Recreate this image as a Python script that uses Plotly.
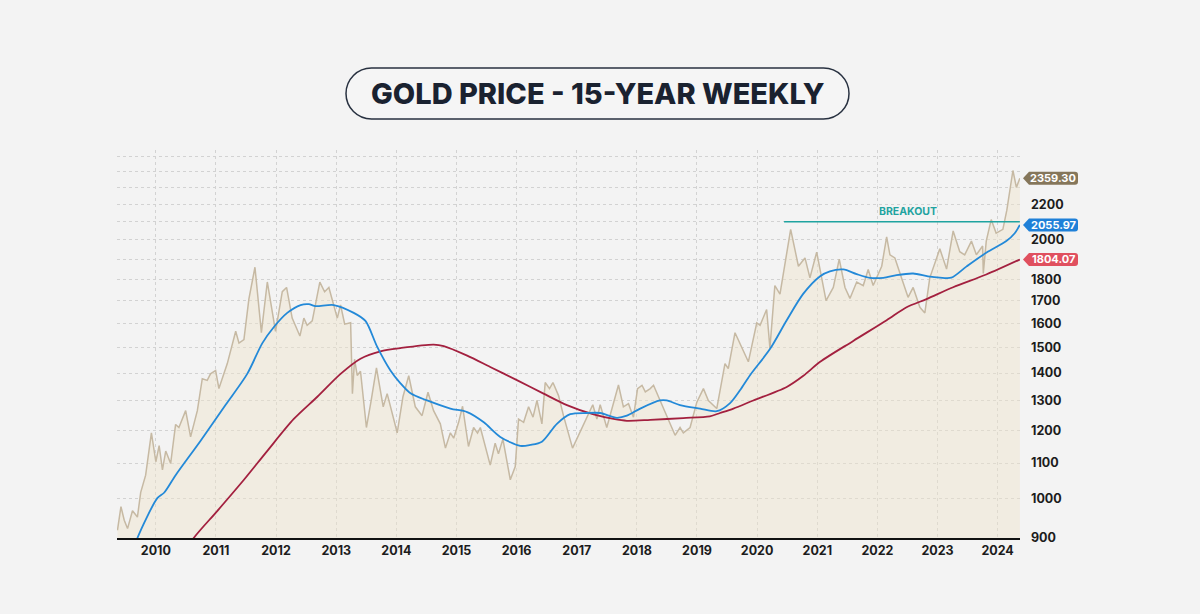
import math
import plotly.graph_objects as go

# ---------------- data ----------------
price_dates = [
    "2009-05-13", "2009-06-03", "2009-06-23", "2009-07-13", "2009-08-12", "2009-09-11",
    "2009-10-01", "2009-10-31", "2009-12-05", "2010-01-01", "2010-01-21", "2010-02-10",
    "2010-03-02", "2010-04-01", "2010-05-01", "2010-05-21", "2010-07-01", "2010-07-31",
    "2010-09-10", "2010-10-10", "2010-11-09", "2010-11-29", "2010-12-30", "2011-01-19",
    "2011-03-11", "2011-05-01", "2011-05-21", "2011-06-20", "2011-07-20", "2011-08-26",
    "2011-10-04", "2011-11-09", "2011-12-29", "2012-02-08", "2012-03-05", "2012-04-08",
    "2012-05-25", "2012-06-18", "2012-07-08", "2012-08-08", "2012-09-23", "2012-10-22",
    "2012-11-17", "2012-12-08", "2013-01-07", "2013-01-27", "2013-02-21", "2013-03-29",
    "2013-04-09", "2013-04-22", "2013-05-08", "2013-05-28", "2013-07-03", "2013-08-01",
    "2013-09-02", "2013-10-13", "2013-11-06", "2014-01-06", "2014-02-10", "2014-03-17",
    "2014-04-26", "2014-06-06", "2014-07-12", "2014-08-15", "2014-09-25", "2014-10-26",
    "2014-11-25", "2014-12-15", "2015-01-14", "2015-02-07", "2015-03-15", "2015-04-15",
    "2015-05-09", "2015-05-26", "2015-07-25", "2015-08-24", "2015-09-13", "2015-10-10",
    "2015-11-24", "2015-12-24", "2016-01-13", "2016-02-13", "2016-03-14", "2016-04-10",
    "2016-05-04", "2016-06-03", "2016-06-23", "2016-07-19", "2016-08-09", "2016-09-12",
    "2016-10-12", "2016-12-06", "2017-02-01", "2017-04-08", "2017-05-03", "2017-05-23",
    "2017-07-02", "2017-09-11", "2017-10-11", "2017-11-11", "2017-12-11", "2018-01-05",
    "2018-02-01", "2018-02-21", "2018-03-23", "2018-04-12", "2018-08-21", "2018-09-20",
    "2018-10-10", "2018-11-20", "2018-12-31", "2019-02-09", "2019-03-11", "2019-05-01",
    "2019-06-20", "2019-07-10", "2019-08-20", "2019-11-09", "2019-12-30", "2020-01-19",
    "2020-02-28", "2020-03-19", "2020-04-18", "2020-05-19", "2020-07-23", "2020-09-08",
    "2020-10-18", "2020-11-17", "2020-12-28", "2021-02-23", "2021-04-08", "2021-05-14",
    "2021-06-18", "2021-07-18", "2021-08-28", "2021-10-07", "2021-11-06", "2021-12-06",
    "2022-01-27", "2022-02-26", "2022-03-18", "2022-04-17", "2022-05-27", "2022-07-06",
    "2022-08-06", "2022-09-16", "2022-10-16", "2022-11-15", "2023-01-15", "2023-02-25",
    "2023-04-06", "2023-05-16", "2023-06-15", "2023-07-26", "2023-08-25", "2023-10-02",
    "2023-10-06", "2023-10-24", "2023-11-23", "2023-12-23", "2024-02-02", "2024-02-26",
    "2024-04-03", "2024-04-24", "2024-05-15",
]
price_values = [
    919, 979, 944, 923, 968, 952,
    1017, 1065, 1193, 1104, 1153, 1080,
    1136, 1099, 1220, 1210, 1266, 1180,
    1266, 1379, 1373, 1397, 1410, 1343,
    1436, 1566, 1517, 1531, 1707, 1859,
    1560, 1787, 1566, 1741, 1761, 1622,
    1546, 1622, 1591, 1610, 1786, 1741,
    1761, 1707, 1622, 1680, 1596, 1602,
    1325, 1453, 1391, 1407, 1210, 1301,
    1420, 1279, 1325, 1193, 1314, 1390,
    1279, 1249, 1330, 1266, 1222, 1145,
    1193, 1176, 1227, 1281, 1150, 1210,
    1192, 1210, 1094, 1160, 1128, 1173,
    1052, 1090, 1238, 1227, 1279, 1244,
    1301, 1222, 1365, 1343, 1365, 1318,
    1249, 1145, 1210, 1286, 1238, 1286,
    1210, 1356, 1279, 1290, 1244, 1343,
    1355, 1331, 1343, 1355, 1185, 1210,
    1193, 1210, 1295, 1343, 1301, 1273,
    1436, 1417, 1560, 1443, 1602, 1591,
    1660, 1497, 1770, 1730, 2058, 1864,
    1906, 1807, 1936, 1700, 1761, 1900,
    1761, 1710, 1787, 1770, 1848, 1770,
    1864, 2017, 1922, 1906, 1807, 1715,
    1761, 1670, 1645, 1807, 1953, 1850,
    2049, 1938, 1922, 1994, 1922, 1968,
    1828, 1994, 2112, 2037, 2058, 2166,
    2409, 2302, 2359.30,
]

ma50_dates = [
    "2009-08-10", "2009-09-11", "2010-01-11", "2010-02-20", "2010-05-01", "2010-09-30",
    "2011-03-01", "2011-07-10", "2011-10-10", "2011-12-19", "2012-03-09", "2012-05-29",
    "2012-07-18", "2012-08-28", "2012-12-17", "2013-04-17", "2013-06-27", "2013-09-06",
    "2013-11-26", "2014-01-26", "2014-03-28", "2014-07-07", "2014-11-25", "2015-03-07",
    "2015-06-16", "2015-09-24", "2016-01-23", "2016-03-25", "2016-06-03", "2016-09-02",
    "2016-11-22", "2017-03-03", "2017-05-23", "2017-09-01", "2017-11-01", "2018-01-21",
    "2018-05-21", "2018-07-01", "2018-09-20", "2019-01-20", "2019-05-01", "2019-07-21",
    "2019-09-19", "2019-11-19", "2020-03-19", "2020-06-29", "2020-10-08", "2021-01-18",
    "2021-03-18", "2021-06-08", "2021-08-28", "2021-11-16", "2022-02-06", "2022-04-27",
    "2022-08-06", "2022-11-04", "2023-01-15", "2023-03-26", "2023-06-25", "2023-10-24",
    "2024-02-23", "2024-04-14", "2024-05-15",
]
ma50_values = [
    860, 900, 1002, 1016, 1065, 1168,
    1286, 1397, 1517, 1584, 1645, 1680,
    1684, 1675, 1680, 1645, 1610, 1503,
    1410, 1362, 1326, 1301, 1273, 1261,
    1227, 1180, 1152, 1155, 1165, 1222,
    1254, 1258, 1258, 1242, 1249, 1273,
    1301, 1301, 1285, 1273, 1264, 1292,
    1337, 1392, 1493, 1613, 1732, 1815,
    1839, 1848, 1825, 1807, 1807, 1820,
    1828, 1814, 1808, 1808, 1862, 1933,
    1994, 2036, 2082,
]

ma200_dates = [
    "2010-06-15", "2010-08-19", "2011-01-10", "2011-06-20", "2011-11-08", "2012-04-18",
    "2012-09-08", "2013-01-27", "2013-05-28", "2013-09-26", "2014-01-26", "2014-08-15",
    "2014-10-16", "2015-03-07", "2015-07-25", "2016-01-03", "2016-06-13", "2016-11-02",
    "2017-04-13", "2017-08-12", "2017-11-01", "2018-03-23", "2018-10-10", "2019-03-20",
    "2019-05-21", "2019-08-10", "2019-12-09", "2020-06-29", "2020-10-08", "2021-01-18",
    "2021-08-07", "2022-02-26", "2022-06-27", "2022-10-26", "2023-04-06", "2023-10-24",
    "2024-05-15",
]
ma200_values = [
    860, 900, 968, 1052, 1136, 1238,
    1314, 1397, 1455, 1484, 1497, 1511,
    1505, 1467, 1423, 1374, 1325, 1285,
    1253, 1238, 1232, 1235, 1241, 1247,
    1258, 1273, 1301, 1349, 1390, 1443,
    1526, 1613, 1670, 1707, 1762, 1823,
    1898,
]

end_labels = ["2359.30", "2055.97", "1804.07"]

breakout_dates = ["2020-06-13", "2024-05-15"]
breakout_level = 2100
breakout_label = "BREAKOUT"

year_ticks = [str(y) for y in range(2010, 2025)]
y_gridvals = [900] + list(range(1000, 2600, 100))
y_labelled = [900, 1000, 1100, 1200, 1300, 1400, 1500, 1600, 1700, 1800, 2000, 2200]

title_text = "GOLD PRICE - 15-YEAR WEEKLY"

# ---------------- styling ----------------
BG = "#f3f3f3"
PRICE_COL = "#c6b9a3"
FILL_COL = "rgba(240,228,205,0.45)"
BLUE = "#2389d8"
RED = "#a3203f"
TEAL = "#1fa3a0"
BROWN_LBL = "#85765a"
BLUE_LBL = "#1f80d8"
RED_LBL = "#e0505f"
DARK = "#1a2230"
TICK_FONT = dict(family="Inter", size=12.5, color="#1c1c1c", weight="bold")

fig = go.Figure()

# baseline for the area fill
fig.add_trace(go.Scatter(
    x=[price_dates[0], price_dates[-1]], y=[y_gridvals[0], y_gridvals[0]],
    mode="lines", line=dict(width=0), hoverinfo="skip", showlegend=False,
))
fig.add_trace(go.Scatter(
    x=price_dates, y=price_values, mode="lines",
    line=dict(color=PRICE_COL, width=1.5), fill="tonexty", fillcolor=FILL_COL,
    showlegend=False,
))
fig.add_trace(go.Scatter(
    x=ma200_dates, y=ma200_values, mode="lines",
    line=dict(color=RED, width=1.8, shape="spline", smoothing=0.8), showlegend=False,
))
fig.add_trace(go.Scatter(
    x=ma50_dates, y=ma50_values, mode="lines",
    line=dict(color=BLUE, width=1.8, shape="spline", smoothing=0.8), showlegend=False,
))
fig.add_trace(go.Scatter(
    x=breakout_dates, y=[breakout_level, breakout_level], mode="lines",
    line=dict(color=TEAL, width=1.6), showlegend=False, cliponaxis=False,
))

lo, hi = math.log10(900), math.log10(2545)

fig.update_layout(
    width=1200, height=614,
    paper_bgcolor=BG, plot_bgcolor=BG,
    margin=dict(l=117, r=180, t=150, b=76),
    showlegend=False,
    xaxis=dict(
        type="date", range=["2009-05-10", "2024-05-16"],
        tickvals=[f"{y}-01-01" for y in year_ticks], ticktext=year_ticks,
        showgrid=True, gridcolor="#d2d2d2", griddash="dot", gridwidth=1,
        showline=True, linecolor="#111111", linewidth=1.6,
        ticks="", tickfont=TICK_FONT, zeroline=False,
    ),
    yaxis=dict(
        type="log", range=[lo, hi], side="right",
        tickvals=y_gridvals,
        ticktext=[str(v) if v in y_labelled else "" for v in y_gridvals],
        showgrid=True, gridcolor="#d2d2d2", griddash="dot", gridwidth=1,
        ticks="", ticklabelstandoff=10, tickfont=TICK_FONT,
        showline=False, zeroline=False,
    ),
)

# breakout label
fig.add_annotation(
    x="2022-07-06", y=math.log10(breakout_level), xref="x", yref="y",
    text=breakout_label, showarrow=False, yshift=10,
    font=dict(family="Inter", size=10.5, color=TEAL, weight="bold"),
)

# end-value labels (arrow-shaped boxes)
end_vals = [price_values[-1], ma50_values[-1], ma200_values[-1]]
end_cols = [BROWN_LBL, BLUE_LBL, RED_LBL]
box_path = ("M 3,0 L 9,6.5 L 55,6.5 Q 58,6.5 58,3.5 L 58,-3.5 Q 58,-6.5 55,-6.5 "
            "L 9,-6.5 Z")
for txt, v, c in zip(end_labels, end_vals, end_cols):
    fig.add_shape(
        type="path", xref="paper", yref="y", xsizemode="pixel", ysizemode="pixel",
        xanchor=1.0, yanchor=v, path=box_path,
        fillcolor=c, line=dict(width=0), layer="above",
    )
    fig.add_annotation(
        x=1.0, y=math.log10(v), xref="paper", yref="y", xanchor="center",
        yanchor="middle", xshift=33, showarrow=False, text=txt,
        font=dict(family="Inter", size=11, color="white", weight="bold"),
    )

# title pill
pill = ("M -226,25.5 L 226,25.5 C 240.1,25.5 251.5,14.1 251.5,0 "
        "C 251.5,-14.1 240.1,-25.5 226,-25.5 L -226,-25.5 "
        "C -240.1,-25.5 -251.5,-14.1 -251.5,0 C -251.5,14.1 -240.1,25.5 -226,25.5 Z")
tx, ty = (597.5 - 117) / 903, (538 - 93.5) / 388
fig.add_shape(
    type="path", xref="paper", yref="paper", xsizemode="pixel", ysizemode="pixel",
    xanchor=tx, yanchor=ty, path=pill, fillcolor="#f5f5f5",
    line=dict(color="#283140", width=1.5), layer="above",
)
fig.add_annotation(
    x=tx, y=ty, xref="paper", yref="paper", xanchor="center", yanchor="middle",
    showarrow=False, text=title_text,
    font=dict(family="Inter", size=29, color=DARK, weight=800),
)

fig.write_html(
    "out.html",
    config={"displayModeBar": False},
    post_script="document.body.style.margin='0px';document.body.style.overflow='hidden';",
)
